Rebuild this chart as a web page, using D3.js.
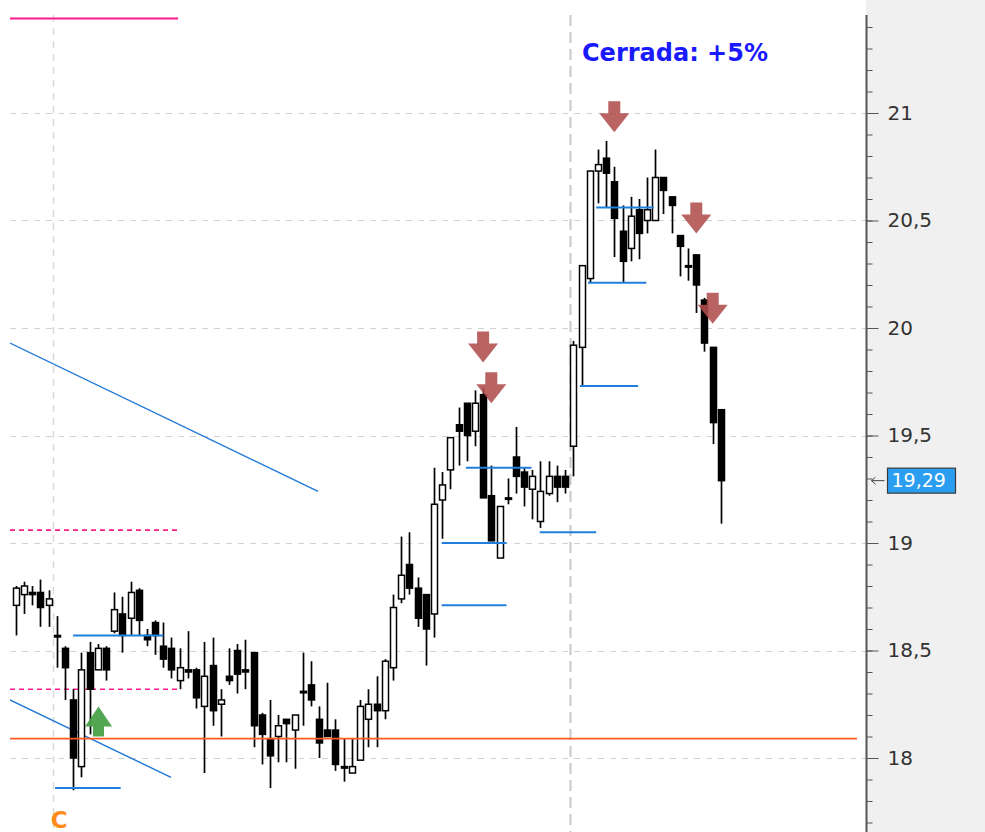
<!DOCTYPE html>
<html>
<head>
<meta charset="utf-8">
<script src="https://cdn.jsdelivr.net/npm/d3@7"></script>
<style>
  body { margin: 0; background: #fff; }
  svg { display: block; }
</style>
</head>
<body>
<main></main>
<script>
const width = 985;
const height = 832;

// daily candles
const opens  = [18.71,18.76,18.77,18.77,18.71,18.57,18.51,18.27,17.96,18.49,18.41,18.51,18.59,18.67,18.65,18.78,18.57,18.63,18.52,18.51,
                18.36,18.41,18.41,18.24,18.43,18.25,18.38,18.50,18.41,18.49,18.20,18.09,18.10,18.18,18.13,18.31,18.34,18.18,18.13,18.13,
                17.96,17.93,17.99,18.18,18.25,18.22,18.42,18.74,18.90,18.79,18.76,18.67,19.20,19.34,19.55,19.65,19.52,19.69,19.22,18.93,
                19.21,19.40,19.33,19.25,19.10,19.23,19.31,19.31,19.45,19.91,20.23,20.73,20.79,20.68,20.45,20.37,20.55,20.50,20.50,20.70,
                20.61,20.43,20.29,20.34,20.13,19.91,19.62];
const highs  = [18.80,18.82,18.80,18.83,18.78,18.66,18.52,18.32,18.49,18.54,18.53,18.52,18.77,18.75,18.82,18.79,18.60,18.64,18.63,18.56,
                18.51,18.59,18.42,18.54,18.56,18.32,18.51,18.53,18.55,18.49,18.21,18.27,18.20,18.18,18.20,18.49,18.45,18.24,18.35,18.18,
                18.09,18.09,18.27,18.32,18.38,18.46,18.76,19.03,19.05,18.84,18.76,19.35,19.33,19.49,19.63,19.65,19.71,19.72,19.36,19.17,
                19.30,19.54,19.35,19.34,19.38,19.38,19.36,19.34,19.94,20.29,20.73,20.83,20.87,20.75,20.57,20.61,20.60,20.70,20.83,20.70,
                20.61,20.43,20.37,20.34,20.14,19.91,19.62];
const lows   = [18.57,18.67,18.71,18.61,18.61,18.42,18.27,17.85,17.91,18.11,18.41,18.36,18.58,18.49,18.57,18.57,18.52,18.48,18.42,18.37,
                18.32,18.37,18.23,17.93,18.15,18.10,18.34,18.30,18.32,18.05,17.97,17.86,17.98,17.98,17.95,18.15,18.24,18.00,18.10,17.94,
                17.89,17.93,17.99,18.05,18.05,18.18,18.36,18.72,18.76,18.61,18.43,18.56,19.02,19.25,19.36,19.38,19.45,19.21,19.01,18.93,
                19.18,19.23,19.17,19.11,19.07,19.22,19.19,19.23,19.31,19.73,20.21,20.58,20.56,20.33,20.21,20.31,20.32,20.44,20.50,20.53,
                20.44,20.24,20.22,20.07,19.89,19.46,19.09];
const closes = [18.79,18.80,18.76,18.70,18.74,18.57,18.42,18.00,18.41,18.32,18.51,18.41,18.69,18.57,18.77,18.64,18.55,18.57,18.46,18.41,
                18.42,18.40,18.28,18.38,18.22,18.27,18.36,18.39,18.40,18.15,18.11,18.01,18.15,18.16,18.20,18.31,18.27,18.07,18.10,17.97,
                17.96,17.96,18.24,18.25,18.22,18.45,18.70,18.85,18.79,18.65,18.60,19.18,19.27,19.49,19.52,19.50,19.65,19.21,19.01,19.17,
                19.21,19.31,19.26,19.31,19.24,19.31,19.26,19.26,19.92,20.29,20.73,20.76,20.72,20.51,20.31,20.52,20.44,20.55,20.70,20.64,
                20.57,20.38,20.29,20.20,19.93,19.56,19.29];

const yTickValues = [18, 18.5, 19, 19.5, 20, 20.5, 21];
const lastPrice = 19.29;

// blue support/resistance stubs: price, first bar, last bar
const levelPrices = [17.86, 18.57, 18.71, 19.00, 19.35, 19.05, 19.73, 20.21, 20.56];
const levelFrom   = [4.8, 7.0, 51.95, 51.95, 54.9, 63.9, 68.8, 69.8, 70.8];
const levelTo     = [12.8, 18.0, 59.85, 59.85, 62.9, 70.8, 75.9, 76.9, 77.8];

// trend lines: [bar, price] -> [bar, price]
const trendStart = [[-0.7, 19.93], [-0.7, 18.27]];
const trendEnd   = [[36.87, 19.24], [18.94, 17.91]];

const supportPrice = 18.09;
const pinkSolid = [21.44];
const pinkDashed = [19.06, 18.32];
const pinkTo = 19.8;

const sellBars = [57, 58, 73, 83, 85];
const sellTips = [19.84, 19.65, 20.91, 20.44, 20.02];
const buyBars = [10.1];
const buyTips = [18.24];

const sessionSeps = [4.5, 67.6];

const plot = {left: 10, right: 866, top: 15, bottom: height};

const x = d3.scaleLinear().domain([0, 86]).range([15.7, 720.9]);
const y = d3.scaleLinear().domain([18, 21]).range([758, 113]);
const fmt = d => d3.format('.2~f')(d).replace('.', ',');

const svg = d3.select('main').append('svg')
    .attr('width', width)
    .attr('height', height)
    .style('font-family', '"DejaVu Sans", Verdana, sans-serif');

svg.append('defs').append('clipPath').attr('id', 'plotclip')
  .append('rect')
    .attr('x', plot.left).attr('y', plot.top)
    .attr('width', plot.right - plot.left).attr('height', plot.bottom - plot.top);

const g = svg.append('g').attr('clip-path', 'url(#plotclip)');

// grid
g.append('g').selectAll('line')
  .data(yTickValues)
  .enter().append('line')
    .attr('x1', plot.left).attr('x2', plot.right)
    .attr('y1', d => Math.round(y(d)) + 0.5).attr('y2', d => Math.round(y(d)) + 0.5)
    .style('stroke', '#d2d2d2')
    .style('stroke-dasharray', '6,6');

g.append('g').selectAll('line')
  .data(sessionSeps)
  .enter().append('line')
    .attr('x1', d => Math.round(x(d)) + 0.5).attr('x2', d => Math.round(x(d)) + 0.5)
    .attr('y1', plot.top).attr('y2', plot.bottom)
    .style('stroke', (d, i) => i ? '#c8c8c8' : '#dadada')
    .style('stroke-width', (d, i) => i ? 2 : 1.5)
    .style('stroke-dasharray', (d, i) => i ? '11,6' : '7,6');

// pink bands
g.append('g').selectAll('line')
  .data(pinkSolid)
  .enter().append('line')
    .attr('x1', plot.left).attr('x2', x(pinkTo))
    .attr('y1', d => y(d)).attr('y2', d => y(d))
    .style('stroke', '#ff1a8c').style('stroke-width', 2);

g.append('g').selectAll('line')
  .data(pinkDashed)
  .enter().append('line')
    .attr('x1', plot.left).attr('x2', x(pinkTo))
    .attr('y1', d => y(d)).attr('y2', d => y(d))
    .style('stroke', '#ff1a8c').style('stroke-width', 1.6)
    .style('stroke-dasharray', '5,4');

// trend lines
g.append('g').selectAll('line')
  .data(trendStart)
  .enter().append('line')
    .attr('x1', d => x(d[0])).attr('y1', d => y(d[1]))
    .attr('x2', (d, i) => x(trendEnd[i][0])).attr('y2', (d, i) => y(trendEnd[i][1]))
    .style('stroke', '#1f78d6').style('stroke-width', 1.4);

// candles
const bars = d3.range(opens.length);
const bw = 6;

const candle = g.append('g').selectAll('g')
  .data(bars)
  .enter().append('g');

candle.append('line')
    .attr('x1', i => Math.round(x(i)) + 0.5).attr('x2', i => Math.round(x(i)) + 0.5)
    .attr('y1', i => y(highs[i])).attr('y2', i => y(lows[i]))
    .style('stroke', '#000').style('stroke-width', 1.7);

candle.append('rect')
    .attr('x', i => Math.round(x(i)) + 0.5 - bw / 2)
    .attr('width', bw)
    .attr('y', i => y(Math.max(opens[i], closes[i])))
    .attr('height', i => Math.max(1.5, Math.abs(y(opens[i]) - y(closes[i]))))
    .style('fill', i => closes[i] > opens[i] ? '#fff' : '#000')
    .style('stroke', '#000').style('stroke-width', 1.5);

// orange support
g.append('line')
    .attr('x1', plot.left).attr('x2', 857)
    .attr('y1', y(supportPrice)).attr('y2', y(supportPrice))
    .style('stroke', '#ff5a1f').style('stroke-width', 1.6);

// blue level stubs
g.append('g').selectAll('line')
  .data(levelPrices)
  .enter().append('line')
    .attr('x1', (d, i) => x(levelFrom[i])).attr('x2', (d, i) => x(levelTo[i]))
    .attr('y1', d => y(d)).attr('y2', d => y(d))
    .style('stroke', '#1f7fdc').style('stroke-width', 2);

// signal arrows
const downArrow = 'M-6,-31 L6,-31 L6,-19 L15,-19 L0,0 L-15,-19 L-6,-19 Z';
const upArrow = 'M0,0 L13.5,20 L5.5,20 L5.5,30 L-5.5,30 L-5.5,20 L-13.5,20 Z';

g.append('g').selectAll('path')
  .data(sellBars)
  .enter().append('path')
    .attr('d', downArrow)
    .attr('transform', (d, i) => `translate(${x(d)},${y(sellTips[i])})`)
    .style('fill', '#b04d4d').style('fill-opacity', 0.88);

g.append('g').selectAll('path')
  .data(buyBars)
  .enter().append('path')
    .attr('d', upArrow)
    .attr('transform', (d, i) => `translate(${x(d)},${y(buyTips[i])})`)
    .style('fill', '#4aa24a').style('fill-opacity', 0.95);

g.append('text')
    .attr('x', x(5.3)).attr('y', 828)
    .attr('text-anchor', 'middle')
    .style('font-size', '23px').style('font-weight', 'bold')
    .style('fill', '#ff8c1a')
    .text('C');

g.append('text')
    .attr('x', 582).attr('y', 61)
    .style('font-size', '24px').style('font-weight', 'bold')
    .style('fill', '#1a1aff')
    .text('Cerrada: +5%');

// price axis
svg.append('rect')
    .attr('x', plot.right).attr('y', 0)
    .attr('width', width - plot.right).attr('height', height)
    .style('fill', '#f0f0f0');

const axisG = svg.append('g')
    .attr('transform', `translate(${plot.right + 0.5},0)`);

const minorTicks = d3.range(176, 215).map(d => d / 10);

axisG.append('g')
    .call(d3.axisRight(y).tickValues(minorTicks).tickSize(6).tickFormat(''))
    .call(a => a.select('.domain').remove())
    .selectAll('line').style('stroke', '#555');

axisG.append('g')
    .call(d3.axisRight(y).tickValues(yTickValues).tickSize(12).tickPadding(9).tickFormat(fmt))
    .call(a => a.select('.domain').remove())
    .call(a => a.selectAll('line').style('stroke', '#555'))
    .call(a => a.selectAll('text')
        .style('font-size', '20px').style('fill', '#333')
        .style('font-family', '"DejaVu Sans", Verdana, sans-serif'));

axisG.append('line')
    .attr('x1', 0).attr('x2', 0)
    .attr('y1', plot.top).attr('y2', height)
    .style('stroke', '#555').style('stroke-width', 2);

// last price tag
const tagY = y(lastPrice);
axisG.append('path')
    .attr('d', `M5,${tagY} L18,${tagY} M5,${tagY} L9,${tagY - 3.5} M5,${tagY} L9,${tagY + 3.5}`)
    .style('stroke', '#444').style('fill', 'none').style('stroke-width', 1);

axisG.append('rect')
    .attr('x', 21).attr('y', tagY - 12.5)
    .attr('width', 68).attr('height', 25)
    .style('fill', '#2b9ef2').style('stroke', '#3a3a3a').style('stroke-width', 1.2);

axisG.append('text')
    .attr('x', 25).attr('y', tagY).attr('dy', '0.36em')
    .style('font-size', '19px').style('fill', '#fff')
    .text(fmt(lastPrice));
</script>
</body>
</html>
